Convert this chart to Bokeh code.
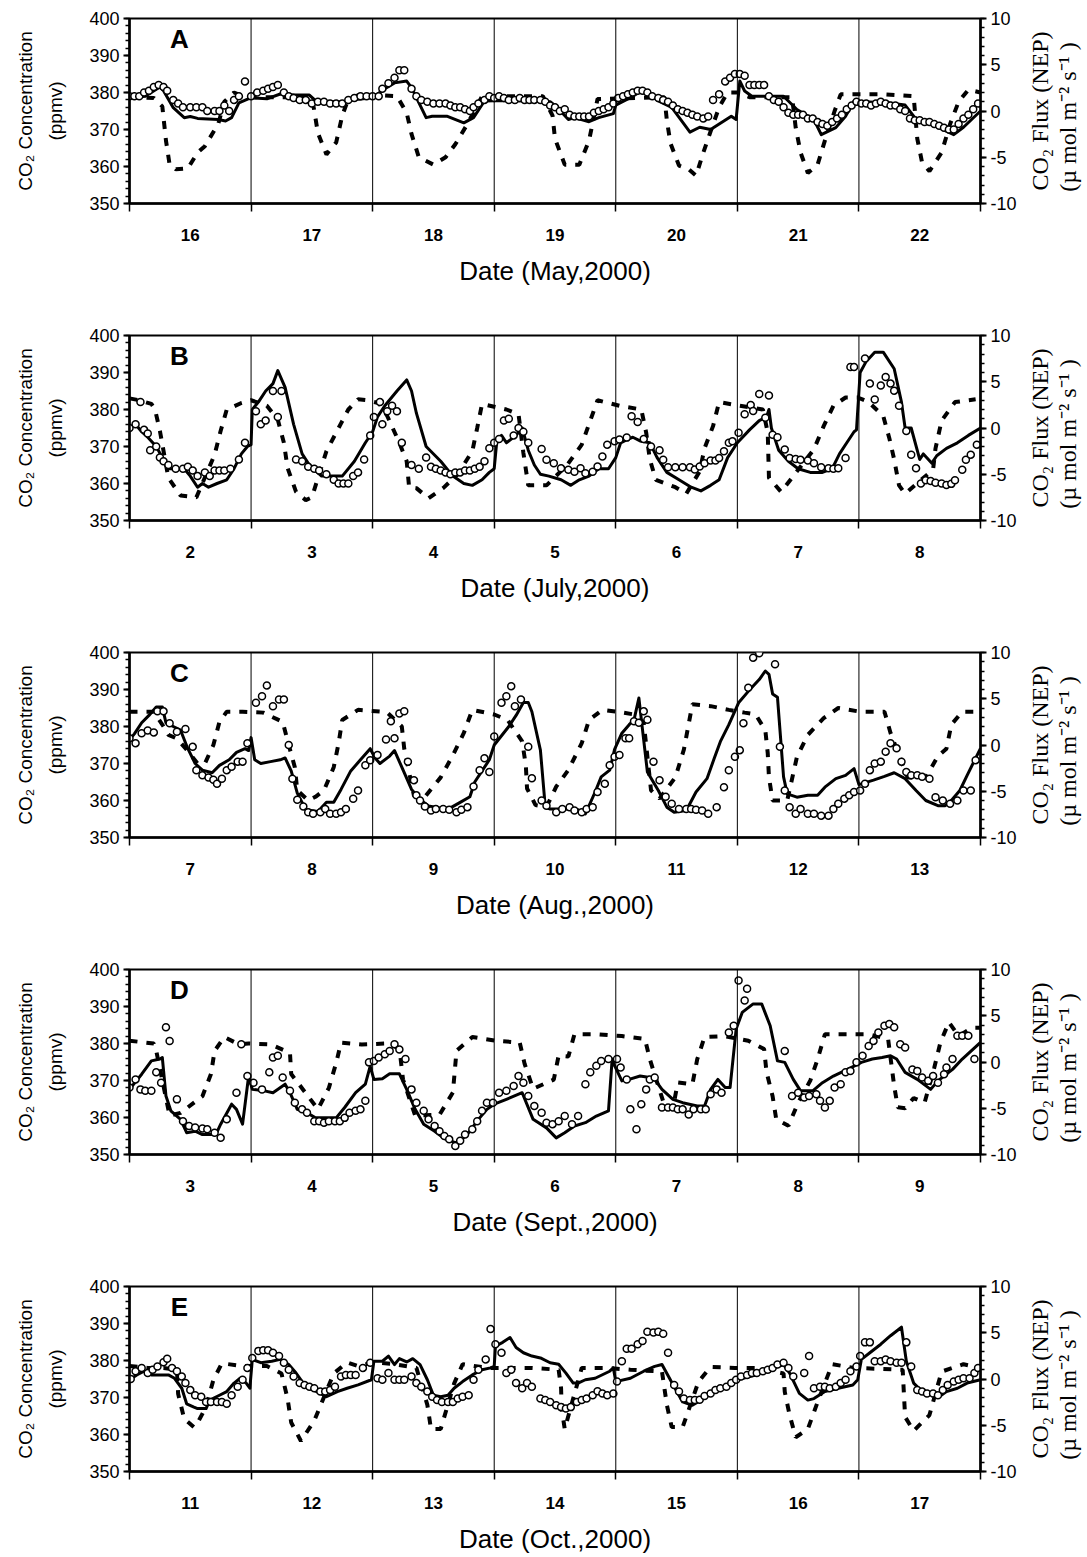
import math
from bokeh.plotting import figure
from bokeh.models import Range1d, LinearAxis, FixedTicker, Span, Label
from bokeh.layouts import column, row
from bokeh.embed import file_html
from bokeh.resources import INLINE

# ---------------- data (x = days from start of window, 0..7) ----------------
panel_letters = ["A", "B", "C", "D", "E"]
panel_titles = ["Date (May,2000)", "Date (July,2000)", "Date (Aug.,2000)",
                "Date (Sept.,2000)", "Date (Oct.,2000)"]
day_labels = [["16", "17", "18", "19", "20", "21", "22"],
              ["2", "3", "4", "5", "6", "7", "8"],
              ["7", "8", "9", "10", "11", "12", "13"],
              ["3", "4", "5", "6", "7", "8", "9"],
              ["11", "12", "13", "14", "15", "16", "17"]]

# panel A : modelled CO2 concentration (solid), observed (circles), flux NEP (dashed)
a_model = [(0, 378.6), (0.13, 379), (0.25, 381.5), (0.28, 380.5), (0.36, 375.9), (0.45, 373.2), (0.50, 373.5), (0.56, 373), (0.73, 372.7), (0.79, 372.3), (0.84, 373.2), (0.90, 377.2), (1.0, 378.6), (1.13, 378.3), (1.24, 379.6), (1.36, 379.3), (1.48, 379.3), (1.53, 377.8), (1.75, 377.4), (1.86, 378.1), (2.0, 378.6), (2.09, 380.8), (2.18, 382.6), (2.28, 383.1), (2.32, 381.3), (2.44, 373.2), (2.49, 373.6), (2.61, 373.6), (2.75, 371.8), (2.83, 373.2), (2.92, 377.7), (3.0, 377.8), (3.38, 377.7), (3.46, 377.5), (3.52, 375.9), (3.61, 372.7), (3.66, 373.2), (3.78, 372.1), (3.86, 373.2), (3.98, 374.3), (4.0, 376.6), (4.12, 378.6), (4.21, 380.4), (4.26, 380.1), (4.35, 377.7), (4.46, 376), (4.61, 369.3), (4.69, 370.6), (4.78, 370), (4.95, 373.6), (4.99, 372.7), (5.02, 383.1), (5.06, 380.4), (5.12, 379), (5.38, 379), (5.49, 375.4), (5.63, 372.7), (5.69, 368.6), (5.81, 370.5), (5.89, 373.6), (5.96, 377.7), (6.03, 377.5), (6.23, 377.2), (6.38, 376.6), (6.46, 373.2), (6.63, 370.9), (6.78, 368.6), (6.86, 370.6), (7.0, 375)]
a_obs = [(0.0, 379), (0.04, 379), (0.08, 379), (0.12, 380), (0.16, 380.5), (0.20, 381.5), (0.24, 382), (0.28, 381.5), (0.31, 380.5), (0.36, 378), (0.40, 377), (0.44, 376), (0.50, 376), (0.55, 376), (0.60, 376), (0.64, 375), (0.70, 375), (0.74, 375), (0.78, 376.5), (0.82, 375), (0.86, 378), (0.90, 379), (0.95, 383), (1.0, 379), (1.05, 380), (1.10, 380.5), (1.14, 381), (1.18, 381.5), (1.22, 382), (1.27, 380), (1.31, 379), (1.35, 378.5), (1.40, 378), (1.45, 378), (1.50, 377), (1.55, 377.5), (1.60, 377.5), (1.65, 377), (1.70, 377), (1.75, 377), (1.80, 378), (1.85, 378.5), (1.90, 379), (1.95, 379), (2.0, 379), (2.05, 379), (2.08, 381), (2.13, 382.5), (2.18, 384), (2.22, 386), (2.26, 386), (2.32, 381), (2.36, 379), (2.40, 378), (2.45, 377.5), (2.50, 377), (2.55, 377), (2.60, 377), (2.64, 376.5), (2.68, 376), (2.72, 376), (2.76, 375.5), (2.80, 375), (2.83, 376), (2.87, 377), (2.92, 378), (2.96, 379), (3.0, 378.5), (3.04, 379), (3.08, 378.5), (3.12, 378), (3.17, 378), (3.21, 378.5), (3.25, 378), (3.29, 378), (3.33, 378), (3.38, 378), (3.42, 377.5), (3.46, 376.5), (3.50, 376), (3.54, 375), (3.58, 375.5), (3.62, 374), (3.66, 373.5), (3.70, 373.5), (3.74, 373.5), (3.78, 373.5), (3.82, 374.5), (3.86, 375), (3.90, 375.5), (3.94, 376), (3.98, 377), (4.02, 378.5), (4.06, 379), (4.10, 379.5), (4.14, 380), (4.18, 380.5), (4.22, 380.5), (4.26, 380), (4.30, 379), (4.35, 378.5), (4.39, 378), (4.43, 377.5), (4.47, 376.5), (4.51, 375.5), (4.55, 375), (4.59, 374.5), (4.63, 374), (4.67, 373.5), (4.72, 373), (4.76, 373.5), (4.80, 378), (4.85, 379.5), (4.90, 383), (4.94, 384), (4.98, 385), (5.02, 385), (5.06, 384.5), (5.10, 382), (5.14, 382), (5.18, 382), (5.22, 382), (5.26, 379), (5.30, 378), (5.34, 377.5), (5.38, 376), (5.42, 374.5), (5.46, 374), (5.50, 374), (5.54, 374), (5.58, 373), (5.62, 373), (5.66, 372), (5.70, 371.5), (5.74, 371), (5.78, 372), (5.82, 373), (5.86, 374), (5.90, 375.5), (5.94, 376.5), (5.98, 377.5), (6.02, 377), (6.06, 377), (6.10, 376.5), (6.14, 377), (6.18, 377.5), (6.22, 377), (6.26, 376.5), (6.30, 376.5), (6.34, 375.5), (6.38, 375), (6.42, 373), (6.46, 372.5), (6.50, 372.5), (6.54, 372), (6.58, 372), (6.62, 371.5), (6.66, 371), (6.70, 370.5), (6.74, 370), (6.78, 370), (6.82, 371.5), (6.86, 373), (6.90, 374), (6.94, 375.5), (6.98, 377)]
a_flux = [(0.0, 1.5), (0.2, 1.4), (0.27, 0.5), (0.30, -3.2), (0.33, -5.8), (0.38, -6.3), (0.48, -6.2), (0.56, -4.5), (0.62, -3.8), (0.73, -1.4), (0.78, 1.0), (0.86, 2.0), (0.95, 1.5), (1.0, 1.5), (1.2, 1.5), (1.5, 1.5), (1.52, 0), (1.55, -2.4), (1.62, -4.7), (1.70, -3.4), (1.75, -0.5), (1.80, 1.3), (1.9, 1.8), (2.2, 1.6), (2.28, -0.2), (2.32, -2.5), (2.38, -5.0), (2.50, -5.8), (2.60, -5.0), (2.68, -3.6), (2.78, -1.4), (2.90, 1.6), (3.4, 1.6), (3.48, -0.5), (3.50, -3.0), (3.58, -5.8), (3.70, -5.8), (3.78, -3.2), (3.85, 1.3), (4.4, 1.5), (4.42, -1.0), (4.45, -3.5), (4.52, -5.9), (4.60, -6.3), (4.66, -7.0), (4.72, -4.5), (4.78, -2.2), (4.85, 0.4), (4.92, 2.0), (5.0, 2.0), (5.1, 1.5), (5.45, 1.5), (5.48, -1.8), (5.52, -4.5), (5.58, -6.7), (5.66, -5.8), (5.72, -3.2), (5.80, 0), (5.85, 1.8), (6.2, 1.8), (6.45, 1.6), (6.48, -3.0), (6.52, -5.6), (6.58, -6.5), (6.68, -4.5), (6.75, -1.4), (6.82, 1.0), (6.90, 2.3), (7.0, 2.0)]

# panel B
b_model = [(0.0, 375), (0.05, 376), (0.10, 374), (0.15, 372.5), (0.22, 370), (0.27, 367), (0.32, 364), (0.40, 364), (0.45, 364), (0.50, 362), (0.56, 359), (0.60, 360), (0.65, 359), (0.72, 360), (0.80, 361), (0.86, 364), (0.92, 368), (0.97, 370), (1.0, 370.5), (1.01, 380), (1.06, 382), (1.12, 385), (1.18, 387), (1.22, 390.5), (1.28, 386), (1.35, 376), (1.42, 368), (1.48, 365), (1.58, 362), (1.66, 362), (1.75, 362), (1.85, 366), (1.94, 371), (2.0, 374), (2.04, 378), (2.10, 381), (2.20, 385), (2.28, 388), (2.32, 385), (2.36, 379), (2.44, 370), (2.56, 366), (2.66, 362), (2.75, 360), (2.82, 359.5), (2.90, 361), (2.96, 363), (3.0, 364), (3.02, 371), (3.06, 373), (3.10, 371), (3.18, 373), (3.23, 375), (3.28, 369), (3.33, 365), (3.38, 362.5), (3.45, 362), (3.55, 361), (3.63, 359.5), (3.70, 361), (3.78, 362), (3.86, 364), (3.94, 364), (4.0, 367), (4.04, 371), (4.10, 372), (4.14, 372.5), (4.20, 371.5), (4.28, 371), (4.34, 367), (4.42, 363), (4.52, 361), (4.62, 359), (4.70, 358), (4.78, 359.5), (4.85, 361), (4.92, 367), (5.0, 371), (5.10, 374.5), (5.18, 377), (5.24, 378), (5.26, 380), (5.28, 375), (5.34, 369), (5.42, 366), (5.50, 364), (5.60, 363), (5.70, 363), (5.78, 364), (5.84, 368), (5.90, 371), (5.96, 374), (5.98, 374.5), (6.01, 390), (6.06, 393), (6.13, 395.5), (6.20, 395.5), (6.29, 391), (6.35, 382), (6.38, 375), (6.43, 375), (6.50, 366.5), (6.53, 368), (6.60, 365.5), (6.64, 367.5), (6.72, 369.5), (6.81, 371), (6.90, 373), (7.0, 375)]
b_obs = [(0.0, 375), (0.05, 376), (0.09, 382), (0.12, 374.5), (0.15, 373.5), (0.17, 369), (0.22, 370), (0.25, 367), (0.28, 366), (0.32, 365), (0.38, 364), (0.44, 364), (0.48, 364.5), (0.52, 363.5), (0.56, 362), (0.62, 363), (0.66, 362), (0.70, 363.5), (0.74, 363.5), (0.78, 363.5), (0.83, 364), (0.90, 366.5), (0.95, 371), (1.04, 379.5), (1.08, 376), (1.12, 377), (1.18, 385), (1.22, 378), (1.25, 385), (1.37, 366.5), (1.42, 366), (1.47, 364.5), (1.52, 364), (1.56, 363.5), (1.62, 362.5), (1.68, 361), (1.72, 360), (1.76, 360), (1.80, 360), (1.84, 362), (1.88, 363), (1.93, 366.5), (1.98, 373), (2.01, 378), (2.06, 382), (2.08, 376), (2.12, 379.5), (2.16, 381), (2.20, 379.5), (2.24, 371), (2.32, 365), (2.38, 364), (2.44, 367), (2.48, 364.5), (2.52, 364), (2.56, 363.5), (2.60, 363), (2.64, 362.5), (2.68, 363), (2.72, 363), (2.76, 363.5), (2.80, 363.5), (2.84, 364), (2.88, 364.5), (2.92, 366), (2.96, 369.5), (3.0, 371), (3.04, 372), (3.08, 377), (3.12, 377.5), (3.16, 373), (3.20, 375), (3.24, 374), (3.28, 371), (3.39, 369.3), (3.43, 366.4), (3.49, 365.5), (3.55, 364.1), (3.61, 363.7), (3.66, 363.2), (3.71, 364.1), (3.75, 362.8), (3.81, 363.2), (3.85, 364.6), (3.89, 367.3), (3.93, 370.5), (3.99, 371.4), (4.03, 371.9), (4.09, 372.4), (4.13, 378.2), (4.18, 376.6), (4.23, 372), (4.29, 370), (4.36, 369), (4.39, 366.4), (4.43, 364.4), (4.49, 364.4), (4.55, 364.4), (4.61, 364.4), (4.65, 363.8), (4.69, 364.6), (4.73, 365.5), (4.78, 366.2), (4.82, 366.2), (4.85, 366.9), (4.89, 368.7), (4.93, 371), (4.96, 371.4), (5.01, 373.7), (5.06, 378.7), (5.11, 381.2), (5.13, 379.6), (5.18, 384.2), (5.23, 377.8), (5.26, 383.8), (5.29, 373.2), (5.33, 372.5), (5.39, 369.2), (5.43, 366.9), (5.48, 366.6), (5.52, 366.4), (5.58, 366.2), (5.63, 365.5), (5.69, 364.4), (5.75, 364.1), (5.79, 364), (5.83, 364.1), (5.89, 366.9), (5.93, 391.5), (5.96, 391.5), (6.05, 393.8), (6.09, 387), (6.13, 382.7), (6.18, 386.5), (6.22, 388.8), (6.26, 387), (6.29, 385.1), (6.33, 381), (6.39, 374.2), (6.43, 367.8), (6.47, 364.1), (6.51, 360), (6.55, 360.9), (6.59, 360.7), (6.63, 360.2), (6.68, 360), (6.72, 359.6), (6.76, 359.9), (6.79, 360.9), (6.85, 363.7), (6.88, 366.4), (6.92, 367.8), (6.97, 370.5)]
b_flux = [(0.0, 3.2), (0.08, 3.0), (0.18, 2.6), (0.21, 2.0), (0.25, -0.3), (0.32, -5.4), (0.42, -7.3), (0.55, -7.5), (0.70, -2.9), (0.75, -0.3), (0.80, 2.0), (0.92, 2.7), (1.0, 3.0), (1.13, 2.4), (1.22, 0.9), (1.27, -1.6), (1.30, -4.3), (1.37, -6.9), (1.45, -7.8), (1.50, -7.5), (1.62, -2.5), (1.74, 0.5), (1.80, 2.0), (1.88, 3.1), (1.95, 3.0), (2.05, 2.7), (2.12, 1.3), (2.22, -1.6), (2.28, -3.6), (2.30, -6.4), (2.36, -6.5), (2.46, -7.6), (2.58, -6.5), (2.70, -5.0), (2.82, -2.5), (2.86, 0), (2.90, 2.6), (3.0, 2.3), (3.1, 2.0), (3.2, 1.5), (3.24, -2.7), (3.28, -6.2), (3.43, -6.2), (3.60, -4.0), (3.72, -1.8), (3.79, 0.8), (3.85, 3.0), (4.03, 2.4), (4.21, 2.0), (4.25, -0.5), (4.28, -3.4), (4.33, -5.6), (4.49, -6.4), (4.58, -7.1), (4.69, -4.7), (4.73, -2.2), (4.80, 0.2), (4.85, 2.8), (5.02, 2.4), (5.21, 2.0), (5.25, -0.5), (5.255, -3.0), (5.26, -5.4), (5.36, -6.9), (5.63, -2.3), (5.71, 0.2), (5.79, 2.4), (5.89, 3.3), (5.99, 3.3), (6.08, 2.8), (6.20, 1.3), (6.25, -1.1), (6.29, -3.4), (6.33, -6.2), (6.38, -7.1), (6.61, -4.5), (6.63, -2.2), (6.68, 0.8), (6.79, 2.8), (6.96, 3.1)]

# panel C
c_model = [(0.0, 376.4), (0.04, 378), (0.10, 381), (0.16, 383), (0.22, 385.3), (0.27, 385.3), (0.30, 381), (0.36, 380), (0.42, 379), (0.48, 374), (0.54, 370), (0.60, 368.2), (0.68, 367.5), (0.74, 369.5), (0.82, 371), (0.88, 373), (0.95, 374), (0.98, 373.5), (1.0, 377), (1.03, 371), (1.08, 370), (1.16, 370.5), (1.24, 371), (1.28, 371.5), (1.33, 368), (1.38, 362), (1.45, 357.5), (1.55, 357), (1.62, 359.5), (1.68, 359.5), (1.74, 363), (1.82, 368), (1.90, 371), (1.98, 374), (2.02, 371.5), (2.06, 370), (2.14, 372), (2.18, 373.5), (2.24, 369), (2.32, 363), (2.40, 360), (2.46, 358.5), (2.55, 358), (2.64, 358), (2.72, 359.5), (2.80, 361), (2.84, 365), (2.90, 368), (2.96, 371), (3.0, 375), (3.06, 377.5), (3.12, 380), (3.18, 383), (3.24, 386.5), (3.28, 386.5), (3.31, 384), (3.38, 373.6), (3.42, 358.2), (3.46, 357.7), (3.58, 357.7), (3.69, 357.5), (3.75, 356.4), (3.83, 362.3), (3.88, 366.4), (3.95, 368.2), (3.99, 373.8), (4.05, 378.2), (4.11, 380.5), (4.15, 381.8), (4.19, 387.7), (4.22, 379.1), (4.26, 367.7), (4.35, 362.7), (4.42, 358.2), (4.48, 356.8), (4.58, 357.3), (4.66, 362.3), (4.75, 365.9), (4.81, 371.4), (4.86, 375.9), (4.93, 380.5), (5.01, 386.4), (5.09, 389.5), (5.18, 392.7), (5.23, 395), (5.26, 394.1), (5.29, 388.8), (5.33, 387.9), (5.38, 366.4), (5.41, 361.8), (5.49, 360.9), (5.58, 361.4), (5.66, 361.4), (5.72, 363.6), (5.81, 365.9), (5.89, 366.8), (5.96, 368.6), (6.0, 364.3), (6.12, 365.5), (6.21, 366.5), (6.29, 367.5), (6.38, 365.9), (6.47, 362.7), (6.55, 360), (6.65, 358.6), (6.71, 358.6), (6.76, 360), (6.83, 362.7), (6.89, 366.8), (7.0, 374.1)]
c_obs = [(0.0, 376.8), (0.05, 375.5), (0.10, 378.2), (0.15, 378.9), (0.20, 378.4), (0.23, 384.1), (0.28, 384.1), (0.33, 380.9), (0.39, 378.6), (0.46, 379.3), (0.52, 374.5), (0.55, 368.2), (0.60, 366.8), (0.65, 366.2), (0.69, 365.6), (0.72, 364.5), (0.76, 365.9), (0.80, 368.2), (0.84, 369.1), (0.89, 370.5), (0.93, 370.5), (0.97, 375.5), (1.04, 386.4), (1.09, 388.2), (1.13, 391.1), (1.18, 385.5), (1.23, 387.3), (1.27, 387.3), (1.31, 375), (1.34, 365.9), (1.38, 360.2), (1.43, 358.4), (1.47, 356.8), (1.51, 356.4), (1.57, 356.8), (1.61, 357.7), (1.65, 356.4), (1.70, 356.4), (1.74, 356.8), (1.78, 357.7), (1.84, 360.5), (1.88, 362.7), (1.94, 369.5), (1.98, 370.9), (2.04, 372.3), (2.11, 376.5), (2.15, 381.4), (2.18, 376.8), (2.22, 383.5), (2.26, 384.1), (2.29, 370.5), (2.34, 365.5), (2.36, 361.4), (2.39, 360), (2.43, 358.4), (2.48, 357.3), (2.52, 357.7), (2.58, 357.7), (2.63, 357.5), (2.69, 356.8), (2.73, 357.5), (2.78, 358.2), (2.83, 363.8), (2.88, 368.2), (2.92, 371.4), (2.96, 367.7), (3.0, 377.3), (3.06, 386.4), (3.10, 388.2), (3.14, 390.9), (3.17, 385.5), (3.22, 387.3), (3.28, 374.5), (3.31, 366), (3.39, 360), (3.43, 358.6), (3.51, 356.8), (3.56, 357.7), (3.62, 358.2), (3.66, 357.3), (3.72, 356.8), (3.76, 357.7), (3.81, 358.2), (3.85, 362.3), (3.91, 364.5), (3.95, 369.5), (3.99, 371.8), (4.03, 372.3), (4.08, 376.8), (4.11, 376.8), (4.15, 381.4), (4.19, 381), (4.23, 384.1), (4.26, 381.8), (4.31, 370.5), (4.36, 365.5), (4.41, 361), (4.46, 359.1), (4.52, 357.7), (4.58, 357.7), (4.62, 357.7), (4.66, 357.5), (4.71, 357.3), (4.76, 356.4), (4.83, 358.2), (4.89, 363.6), (4.93, 368.2), (4.98, 371.8), (5.02, 373.6), (5.05, 380.9), (5.09, 390.5), (5.13, 398.6), (5.18, 399.8), (5.31, 396.8), (5.35, 374.5), (5.39, 362.7), (5.43, 358.2), (5.48, 356.4), (5.52, 357.7), (5.58, 356.4), (5.63, 356.4), (5.69, 355.9), (5.75, 355.9), (5.79, 357.7), (5.83, 359.1), (5.88, 360.5), (5.92, 361.4), (5.96, 362.3), (6.01, 362.7), (6.05, 364.5), (6.09, 368.2), (6.13, 370), (6.18, 370.5), (6.22, 373.2), (6.26, 375.5), (6.31, 374.1), (6.35, 370.5), (6.39, 367.7), (6.43, 366.8), (6.48, 366.8), (6.52, 366.4), (6.58, 365.9), (6.63, 360.9), (6.69, 360), (6.75, 359.1), (6.81, 360), (6.86, 362.7), (6.92, 362.7), (6.96, 370.9)]
c_flux = [(0.0, 3.6), (0.2, 3.6), (0.3, 1.6), (0.32, 1.1), (0.39, 0.7), (0.47, -0.5), (0.56, -2.0), (0.62, -2.0), (0.69, 0), (0.74, 2.5), (0.80, 3.6), (0.93, 3.6), (1.1, 3.5), (1.26, 2.5), (1.31, 0), (1.36, -2.4), (1.38, -4.9), (1.47, -6.0), (1.53, -5.6), (1.60, -4.9), (1.68, -2.4), (1.72, 0.2), (1.75, 2.7), (1.88, 3.8), (2.07, 3.6), (2.12, 3.5), (2.24, 2.0), (2.26, -0.4), (2.34, -5.5), (2.43, -5.6), (2.56, -3.5), (2.66, -1.1), (2.75, 1.3), (2.82, 3.8), (3.0, 3.3), (3.11, 2.7), (3.23, 0.4), (3.26, -2.2), (3.27, -4.7), (3.34, -6.5), (3.43, -6.7), (3.51, -4.5), (3.61, -2.7), (3.72, 0.2), (3.78, 2.7), (3.89, 3.8), (4.06, 3.5), (4.15, 3.3), (4.23, 2.4), (4.29, -4.9), (4.36, -5.8), (4.49, -3.5), (4.56, -0.5), (4.63, 4.4), (4.78, 4.2), (4.93, 3.8), (5.06, 3.5), (5.15, 3.3), (5.23, 1.6), (5.25, -0.9), (5.26, -3.5), (5.29, -6.0), (5.41, -6.0), (5.49, -1.3), (5.58, 1.1), (5.66, 2.2), (5.71, 2.9), (5.83, 4.0), (6.01, 3.6), (6.21, 3.6), (6.26, 1.3), (6.40, -3.5), (6.55, -3.5), (6.65, -1.2), (6.72, -0.4), (6.76, 2.2), (6.85, 3.6), (7.0, 3.6)]

# panel D
d_model = [(0.0, 367.6), (0.10, 371.7), (0.18, 375.3), (0.25, 375.8), (0.27, 376.2), (0.30, 365.8), (0.34, 361.8), (0.42, 359.5), (0.47, 355.9), (0.54, 356.3), (0.60, 355.4), (0.71, 355.4), (0.75, 358.2), (0.84, 363.6), (0.88, 362.2), (0.93, 358.2), (0.98, 371.2), (1.01, 367.6), (1.11, 367.2), (1.18, 366.7), (1.28, 369), (1.32, 366.7), (1.38, 362.2), (1.46, 361.3), (1.53, 359.9), (1.60, 359.9), (1.70, 359.9), (1.77, 362.7), (1.86, 366.7), (1.94, 369), (1.98, 373.9), (2.01, 370.3), (2.08, 370.5), (2.14, 371.8), (2.22, 371.8), (2.28, 367.6), (2.35, 362.2), (2.42, 358.2), (2.51, 356.3), (2.59, 354.3), (2.68, 353.2), (2.72, 353.7), (2.79, 355.9), (2.87, 359.5), (2.94, 362.2), (3.0, 363.6), (3.10, 364.9), (3.23, 366.7), (3.32, 359.5), (3.43, 357.2), (3.51, 354.5), (3.58, 355.9), (3.66, 357.7), (3.75, 358.6), (3.84, 360.4), (3.94, 361.8), (3.97, 375.8), (3.99, 374), (4.05, 369.9), (4.11, 370.3), (4.20, 371.2), (4.28, 370.8), (4.32, 370.3), (4.38, 367.6), (4.47, 364.9), (4.55, 364), (4.67, 363.1), (4.73, 363.1), (4.78, 367.6), (4.84, 370.3), (4.90, 368.1), (4.94, 368.1), (4.99, 383.9), (5.04, 388.4), (5.13, 390.7), (5.20, 390.7), (5.27, 384.8), (5.33, 375.3), (5.39, 374.9), (5.46, 370.3), (5.52, 367.2), (5.57, 367.2), (5.62, 367.2), (5.70, 369.4), (5.79, 371.2), (5.88, 372.6), (5.96, 373.9), (6.02, 374.9), (6.11, 375.8), (6.19, 376.2), (6.26, 376.7), (6.31, 375.8), (6.38, 372.2), (6.48, 370.3), (6.59, 367.6), (6.65, 369.9), (6.77, 373), (6.85, 375.8), (7.0, 380.3)]
d_obs = [(0.0, 368.1), (0.05, 370.3), (0.09, 367.6), (0.13, 367.2), (0.18, 367.2), (0.22, 372.2), (0.26, 369.4), (0.30, 384.4), (0.33, 380.7), (0.39, 364.9), (0.44, 359), (0.49, 357.7), (0.54, 357.3), (0.60, 357), (0.64, 356.8), (0.70, 355.9), (0.75, 354.5), (0.80, 359.5), (0.88, 366.7), (0.92, 379.8), (0.97, 371.2), (1.02, 369.4), (1.09, 367.6), (1.15, 372.2), (1.18, 376.2), (1.22, 376.7), (1.26, 370.8), (1.32, 367.2), (1.36, 364), (1.42, 362.2), (1.46, 361.3), (1.52, 359), (1.56, 359), (1.60, 358.6), (1.64, 359), (1.69, 359), (1.73, 359), (1.77, 359.9), (1.81, 361.3), (1.86, 361.8), (1.90, 362.2), (1.94, 364.5), (1.97, 374.9), (2.01, 375.3), (2.05, 376.2), (2.10, 377.1), (2.14, 378), (2.18, 379.8), (2.22, 378.4), (2.27, 375.8), (2.32, 367.6), (2.36, 364), (2.42, 361.8), (2.46, 359.5), (2.51, 357.7), (2.55, 356.3), (2.59, 355), (2.63, 354.1), (2.68, 352.3), (2.72, 353.7), (2.76, 355.4), (2.82, 356.8), (2.86, 359), (2.90, 361.8), (2.94, 364), (2.99, 364), (3.04, 366.7), (3.10, 367.2), (3.16, 368.5), (3.20, 371.2), (3.24, 369.4), (3.28, 365.8), (3.33, 363.1), (3.39, 361.3), (3.43, 358.6), (3.48, 358.2), (3.53, 359), (3.58, 360.4), (3.64, 358.2), (3.69, 360.4), (3.75, 369), (3.79, 372.2), (3.84, 374), (3.88, 375.3), (3.94, 375.8), (4.01, 375.8), (4.04, 373.5), (4.09, 370.3), (4.12, 362.2), (4.17, 356.8), (4.21, 363.6), (4.25, 367.6), (4.28, 370.3), (4.32, 370.8), (4.38, 362.7), (4.43, 362.7), (4.47, 362.7), (4.51, 362.2), (4.55, 362.2), (4.60, 360.8), (4.64, 362.2), (4.70, 362.2), (4.74, 362.2), (4.78, 366.3), (4.83, 367.6), (4.87, 366.7), (4.93, 383), (4.97, 384.8), (5.01, 397), (5.06, 391.6), (5.08, 394.8), (5.39, 378), (5.45, 365.8), (5.50, 366.7), (5.55, 365.4), (5.59, 365.8), (5.65, 366.3), (5.68, 364.5), (5.72, 362.7), (5.76, 364.5), (5.80, 368.1), (5.85, 369), (5.89, 372.2), (5.93, 372.6), (5.98, 374.9), (6.03, 376.7), (6.08, 379.3), (6.12, 380.7), (6.16, 383), (6.21, 384.8), (6.25, 385.3), (6.29, 384.4), (6.34, 379.8), (6.38, 378.9), (6.44, 373), (6.48, 372.6), (6.52, 370.8), (6.57, 369.9), (6.61, 371.2), (6.65, 369.4), (6.70, 371.7), (6.72, 373.5), (6.77, 375.8), (6.81, 382.1), (6.85, 382.1), (6.90, 382.1), (6.95, 375.8)]
d_flux = [(0.0, 2.3), (0.20, 2.0), (0.22, 1.2), (0.33, -5.8), (0.42, -5.5), (0.60, -3.7), (0.67, -1.3), (0.70, 1.2), (0.78, 2.7), (0.90, 1.9), (0.98, 2.0), (1.16, 1.9), (1.32, 1.0), (1.33, -1.3), (1.55, -5.1), (1.64, -2.8), (1.70, -0.1), (1.74, 2.1), (1.91, 1.9), (2.11, 2.0), (2.22, 1.5), (2.25, -1.9), (2.35, -5.8), (2.55, -5.7), (2.66, -3.3), (2.69, 1.2), (2.82, 2.7), (3.01, 2.3), (3.21, 2.1), (3.25, -0.2), (3.32, -2.9), (3.49, -1.9), (3.53, 0.7), (3.61, 0.6), (3.66, 3.0), (3.85, 3.0), (4.05, 2.8), (4.24, 2.5), (4.28, 0.3), (4.41, -5.1), (4.47, -5.0), (4.51, -2.2), (4.63, -2.4), (4.67, 0.3), (4.73, 2.7), (4.89, 2.8), (5.09, 2.3), (5.22, 1.4), (5.24, -1.1), (5.29, -3.7), (5.32, -6.2), (5.42, -6.9), (5.50, -4.4), (5.60, -2.0), (5.66, 0.3), (5.72, 3.0), (6.08, 3.0), (6.24, 2.5), (6.29, -2.6), (6.32, -4.9), (6.38, -5.0), (6.45, -3.9), (6.54, -4.4), (6.62, -0.6), (6.67, 2.1), (6.74, 4.3), (6.82, 2.8), (6.93, 3.7), (7.0, 3.7)]

# panel E
e_model = [(0.0, 374.8), (0.06, 376.1), (0.12, 377.1), (0.18, 376.1), (0.32, 376.1), (0.37, 375.2), (0.43, 372.5), (0.47, 368.3), (0.53, 367.4), (0.56, 367), (0.63, 367), (0.66, 369.3), (0.74, 370.6), (0.80, 371.6), (0.86, 373.9), (0.91, 375.2), (0.96, 373.9), (0.99, 372.5), (1.01, 380.3), (1.08, 379.4), (1.17, 379.8), (1.24, 380.3), (1.31, 378.9), (1.37, 376.6), (1.42, 374.3), (1.48, 372.5), (1.57, 371.1), (1.62, 370.2), (1.71, 371.6), (1.79, 372.5), (1.88, 373.4), (1.99, 374.8), (2.01, 379.8), (2.08, 379.8), (2.13, 381.2), (2.18, 378.9), (2.22, 380.5), (2.28, 379.6), (2.33, 380.5), (2.39, 378.9), (2.45, 374.8), (2.50, 370.6), (2.56, 370.2), (2.62, 370.6), (2.67, 372.5), (2.74, 374.3), (2.82, 376.1), (2.90, 377.5), (2.97, 378), (3.0, 378.4), (3.01, 383.9), (3.07, 384.9), (3.13, 386.2), (3.18, 383.5), (3.24, 382.1), (3.31, 381.2), (3.38, 380.7), (3.46, 379.4), (3.53, 379), (3.59, 376.6), (3.65, 373.9), (3.69, 373.9), (3.75, 374.8), (3.83, 375.2), (3.95, 377.1), (3.98, 378), (4.0, 374.3), (4.12, 375.2), (4.23, 377.1), (4.32, 378.4), (4.38, 378.9), (4.48, 372.9), (4.55, 368.8), (4.63, 367.9), (4.72, 369.7), (4.81, 371.6), (4.92, 373.4), (5.0, 374.8), (5.15, 376.1), (5.26, 377.5), (5.38, 378.9), (5.43, 376.6), (5.51, 371.1), (5.58, 369.3), (5.63, 369.7), (5.72, 371.6), (5.83, 372.5), (5.95, 373.4), (5.99, 374.8), (6.02, 380.3), (6.09, 382.1), (6.18, 384.4), (6.26, 386.7), (6.35, 389), (6.39, 379.8), (6.45, 373.9), (6.52, 371.6), (6.61, 370.6), (6.66, 370.2), (6.72, 371.6), (6.81, 372.5), (6.89, 373.9), (7.0, 374.8)]
e_obs = [(0.01, 375), (0.05, 377.1), (0.10, 378), (0.15, 376.6), (0.19, 377.5), (0.23, 378.4), (0.28, 379.5), (0.31, 380.5), (0.35, 378), (0.39, 377.1), (0.43, 375.7), (0.46, 373.9), (0.50, 372), (0.54, 370.6), (0.59, 370.2), (0.63, 368.8), (0.67, 368.8), (0.72, 368.8), (0.76, 368.8), (0.80, 368.3), (0.84, 370.6), (0.89, 372.9), (0.93, 374.8), (0.97, 378), (1.01, 380.7), (1.06, 382.6), (1.10, 382.8), (1.14, 382.8), (1.18, 382.1), (1.23, 381.2), (1.27, 379.4), (1.31, 377.5), (1.35, 375.7), (1.40, 373.9), (1.44, 373.4), (1.48, 372.9), (1.52, 372.5), (1.57, 371.6), (1.61, 371.6), (1.65, 372), (1.69, 372.9), (1.74, 375.7), (1.78, 376.1), (1.82, 376.1), (1.86, 376.1), (1.92, 378), (1.98, 379.4), (2.04, 375.2), (2.08, 374.8), (2.13, 376.6), (2.18, 374.8), (2.22, 374.8), (2.26, 374.8), (2.32, 375.7), (2.36, 373.9), (2.40, 372.9), (2.45, 371.6), (2.49, 370.2), (2.53, 369.3), (2.57, 368.8), (2.62, 368.8), (2.66, 368.8), (2.70, 369.7), (2.74, 370.2), (2.79, 370.6), (2.83, 374.8), (2.87, 377.5), (2.93, 380.3), (2.97, 388.5), (3.01, 384.4), (3.06, 382.1), (3.10, 376.6), (3.14, 377.5), (3.18, 373.9), (3.23, 372.5), (3.27, 373.9), (3.31, 372.9), (3.38, 369.7), (3.42, 369.3), (3.46, 368.8), (3.51, 367.9), (3.55, 367.4), (3.59, 367), (3.63, 367.4), (3.68, 368.8), (3.72, 369.3), (3.76, 369.7), (3.81, 370.6), (3.85, 371.7), (3.89, 371.1), (3.93, 370.6), (3.98, 371.1), (4.01, 374.3), (4.05, 379.8), (4.09, 383.2), (4.13, 383.2), (4.18, 384.4), (4.22, 385.3), (4.26, 387.8), (4.31, 387.6), (4.35, 387.8), (4.39, 387.2), (4.43, 382.1), (4.48, 373.4), (4.52, 371.6), (4.56, 369.7), (4.61, 369.3), (4.65, 369.3), (4.69, 369.4), (4.73, 370.4), (4.78, 371.1), (4.82, 372), (4.86, 372.5), (4.91, 372.9), (4.95, 373.9), (4.99, 374.8), (5.03, 375.7), (5.08, 376.1), (5.12, 376.6), (5.16, 376.6), (5.21, 377.1), (5.25, 377.5), (5.29, 378), (5.33, 378.9), (5.38, 379.4), (5.42, 378), (5.46, 375.7), (5.55, 376.6), (5.59, 381.2), (5.63, 372.5), (5.68, 372.9), (5.72, 372.9), (5.76, 372.5), (5.81, 372.9), (5.85, 373.9), (5.89, 374.8), (5.93, 377.1), (5.98, 378.4), (6.01, 381.2), (6.05, 384.9), (6.09, 384.9), (6.13, 379.8), (6.18, 379.8), (6.22, 380.3), (6.26, 379.8), (6.31, 379.4), (6.35, 379.4), (6.39, 384.9), (6.43, 378.4), (6.48, 372), (6.52, 371.6), (6.56, 371.1), (6.61, 371.1), (6.65, 370.6), (6.69, 372), (6.73, 373.4), (6.78, 374.3), (6.82, 374.8), (6.86, 375.2), (6.91, 375.2), (6.95, 376.6), (6.98, 378)]
e_flux = [(0.0, 1.4), (0.15, 1.2), (0.28, 1.2), (0.39, 1.0), (0.40, -1.6), (0.45, -4.3), (0.53, -5.2), (0.55, -5.0), (0.63, -3.0), (0.69, -0.1), (0.76, 1.7), (0.93, 1.4), (1.13, 1.4), (1.25, 0.6), (1.30, -2.1), (1.33, -4.7), (1.41, -6.7), (1.52, -4.5), (1.68, 0.6), (1.79, 1.8), (1.88, 1.4), (2.01, 1.8), (2.18, 1.6), (2.36, 1.2), (2.45, -2.8), (2.48, -5.4), (2.56, -5.4), (2.67, -0.5), (2.74, 1.6), (2.94, 1.2), (3.31, 1.2), (3.53, 1.0), (3.55, -1.0), (3.555, -3.2), (3.58, -5.4), (3.72, 1.2), (3.93, 1.2), (4.12, 1.0), (4.38, 0.8), (4.42, -2.8), (4.46, -5.2), (4.55, -5.2), (4.68, -0.3), (4.78, 1.3), (4.98, 1.2), (5.15, 1.2), (5.38, 0.6), (5.39, -1.4), (5.43, -3.9), (5.48, -6.3), (5.58, -5.4), (5.66, -2.5), (5.78, 1.6), (5.96, 1.2), (6.36, 1.0), (6.37, -1.6), (6.38, -4.1), (6.45, -5.6), (6.58, -3.9), (6.68, 0.8), (6.86, 1.6), (7.0, 1.2)]

conc_ticks = [350, 360, 370, 380, 390, 400]
flux_ticks = [-10, -5, 0, 5, 10]
left_title = "CO\u2082 Concentration\n(ppmv)"
right_title_1 = "CO\u2082 Flux (NEP)"
right_title_2 = "(\u00b5 mol  m\u207b\u00b2  s\u207b\u00b9 )"

models = [a_model, b_model, c_model, d_model, e_model]
observations = [a_obs, b_obs, c_obs, d_obs, e_obs]
fluxes = [a_flux, b_flux, c_flux, d_flux, e_flux]

SANS = "Liberation Sans"
SERIF = "Liberation Serif"
FRAME_LEFT = 129
FRAME_W = 851
FRAME_TOP = 18
FRAME_H = 185
MAIN_W = 1022
SIDE_W = 1087 - MAIN_W


def style_y_axis(ax):
    ax.axis_line_width = 2.5
    ax.major_tick_out = 6
    ax.major_tick_in = 0
    ax.minor_tick_out = 4
    ax.minor_tick_in = 0
    ax.major_tick_line_width = 2
    ax.minor_tick_line_width = 1.5
    ax.major_label_text_font = SANS
    ax.major_label_text_font_size = "18px"
    ax.major_label_text_color = "black"
    ax.major_label_standoff = 4
    ax.axis_label_text_color = "black"
    ax.axis_label_text_font_style = "normal"


def make_panel(i, height, bottom):
    p = figure(width=MAIN_W, height=height, x_range=Range1d(0, 7), y_range=Range1d(350, 400),
               output_backend="svg", toolbar_location=None,
               min_border_left=FRAME_LEFT, min_border_right=MAIN_W - FRAME_LEFT - FRAME_W,
               min_border_top=FRAME_TOP, min_border_bottom=bottom)
    p.extra_y_ranges = {"flux": Range1d(-10, 10)}
    p.grid.visible = False
    p.outline_line_color = "black"
    p.outline_line_width = 2
    p.background_fill_color = "white"
    p.border_fill_color = "white"

    # left axis
    ya = p.yaxis[0]
    ya.ticker = FixedTicker(ticks=conc_ticks, minor_ticks=list(range(350, 401, 2)))
    style_y_axis(ya)
    ya.axis_label = left_title
    ya.axis_label_text_font = SANS
    ya.axis_label_text_font_size = "19px"
    ya.axis_label_text_line_height = 1.45
    ya.axis_label_standoff = 20

    # right axis
    ra = LinearAxis(y_range_name="flux",
                    ticker=FixedTicker(ticks=flux_ticks, minor_ticks=list(range(-10, 11))))
    style_y_axis(ra)
    ra.major_label_overrides = {-10: "-10", -5: "-5", 0: "0", 5: "5", 10: "10"}
    p.add_layout(ra, "right")

    # bottom axis with day boundary ticks
    xa = p.xaxis[0]
    xa.ticker = FixedTicker(ticks=list(range(8)), minor_ticks=[])
    xa.major_label_overrides = {k: "" for k in range(8)}
    xa.major_label_text_font_size = "1px"
    xa.major_label_standoff = 0
    xa.axis_line_width = 2.5
    xa.major_tick_out = 8
    xa.major_tick_in = 0
    xa.major_tick_line_width = 1.5

    # day labels + date title
    centers = [k + 0.5 for k in range(7)]
    da = LinearAxis(ticker=FixedTicker(ticks=centers, minor_ticks=[]),
                    major_label_overrides={c: lab for c, lab in zip(centers, day_labels[i])})
    da.axis_line_color = None
    da.major_tick_line_color = None
    da.minor_tick_line_color = None
    da.major_label_text_font = SANS
    da.major_label_text_font_style = "bold"
    da.major_label_text_font_size = "17px"
    da.major_label_text_color = "black"
    da.major_label_standoff = 11
    da.axis_label = panel_titles[i]
    da.axis_label_text_font = SANS
    da.axis_label_text_font_style = "normal"
    da.axis_label_text_font_size = "26px"
    da.axis_label_text_color = "black"
    da.axis_label_standoff = 12
    p.add_layout(da, "below")

    # day separators
    for k in range(1, 7):
        p.add_layout(Span(location=k, dimension="height", line_color="black", line_width=1))

    fx, fy = zip(*fluxes[i])
    p.line(list(fx), list(fy), y_range_name="flux", line_color="black", line_width=4,
           line_dash="8 9", line_cap="butt")
    mx, my = zip(*models[i])
    p.line(list(mx), list(my), line_color="black", line_width=3, line_join="round")
    ox, oy = zip(*observations[i])
    p.scatter(list(ox), list(oy), marker="circle", size=7, line_color="black",
              line_width=1.5, fill_color="white")

    p.add_layout(Label(x=0.41, y=398.6, text=panel_letters[i], text_font=SANS,
                       text_font_style="bold", text_font_size="26px", text_align="center",
                       text_baseline="top", text_color="black"))

    # narrow side figure that carries the right-hand axis title (reads bottom to top);
    # its frame is aligned with the main frame by the row layout
    s = figure(width=SIDE_W, height=height, x_range=Range1d(0, SIDE_W), y_range=Range1d(350, 400),
               output_backend="svg", toolbar_location=None, x_axis_location=None,
               y_axis_location=None, min_border=0)
    s.grid.visible = False
    s.outline_line_color = None
    s.background_fill_color = "white"
    s.border_fill_color = "white"
    s.add_layout(Label(x=1039 - MAIN_W, y=375, text=right_title_1, angle=math.pi / 2,
                       text_font=SERIF, text_font_size="24px", text_align="center",
                       text_baseline="middle", text_color="black"))
    s.add_layout(Label(x=1067 - MAIN_W, y=375, text=right_title_2, angle=math.pi / 2,
                       text_font=SERIF, text_font_size="24px", text_align="center",
                       text_baseline="middle", text_color="black"))
    return row(p, s, spacing=0)


panels = []
for i in range(5):
    if i < 4:
        panels.append(make_panel(i, 317, 114))
    else:
        panels.append(make_panel(i, 1557 - 4 * 317, 1557 - 4 * 317 - FRAME_TOP - FRAME_H))

layout = column(*panels, spacing=0)
open("out.html", "w").write(file_html(layout, INLINE))
